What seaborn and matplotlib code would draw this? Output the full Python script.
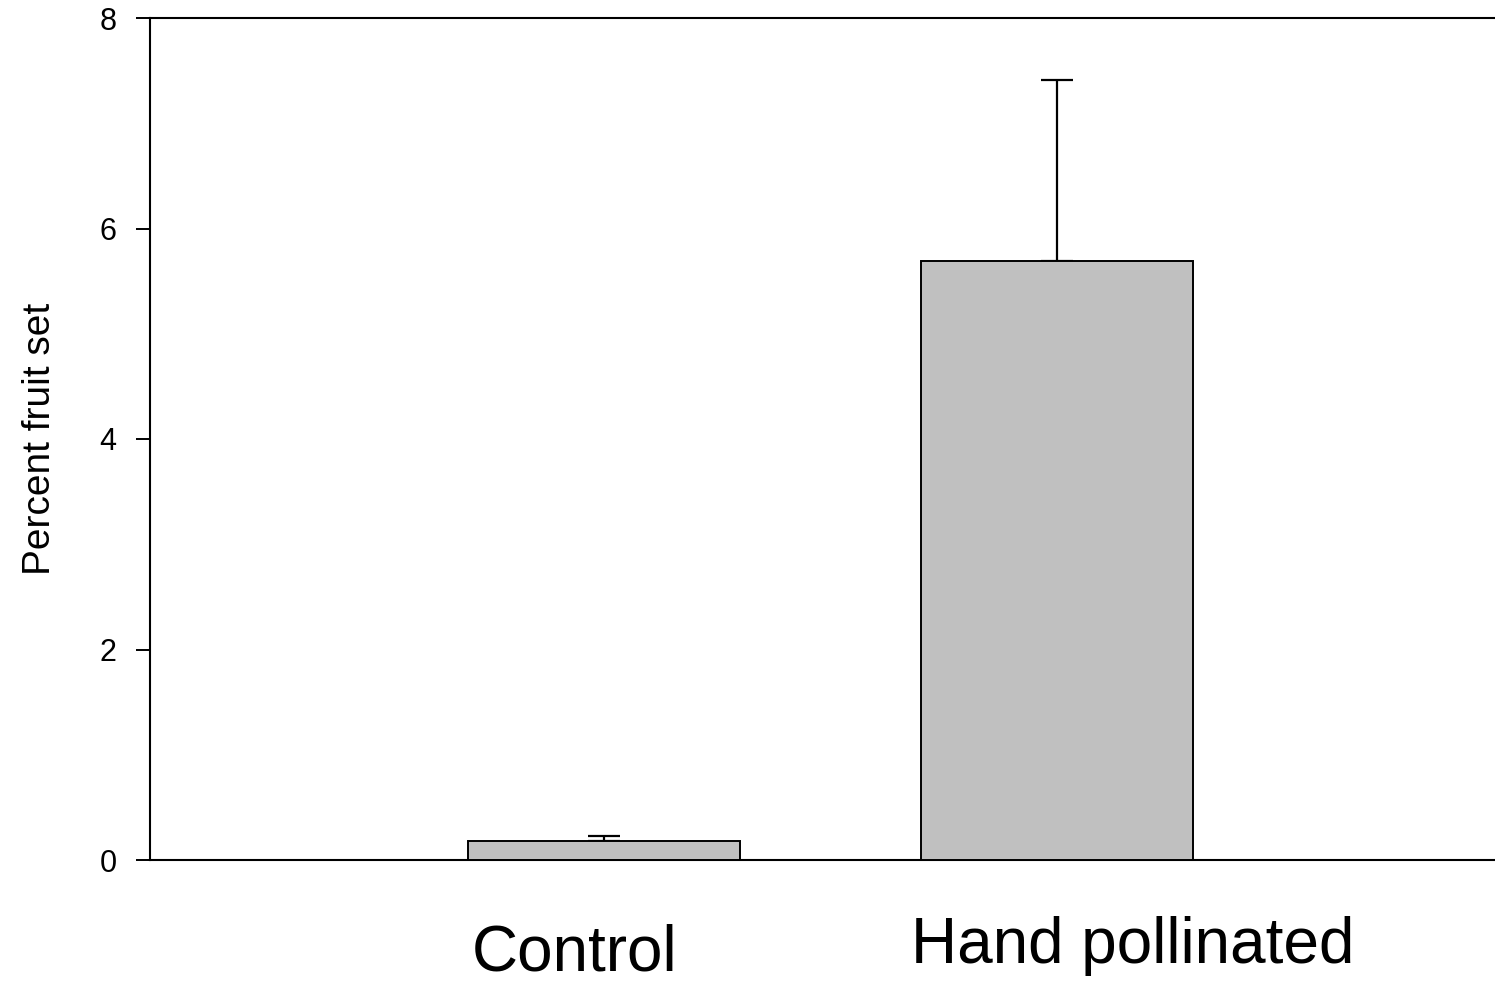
import numpy as np
import matplotlib
matplotlib.use('Agg')
import matplotlib.pyplot as plt
import matplotlib.transforms as mtransforms
import seaborn as sns
import pandas as pd

# dados
grupos = ['Control', 'Hand pollinated']
media = [0.18, 5.69]
erro = [0.05, 1.72]
y_ticks = [0, 2, 4, 6, 8]

sns.set_style('ticks')
plt.rcParams['font.family'] = ['Liberation Sans', 'DejaVu Sans']

df = pd.DataFrame({'grupo': grupos, 'media': media})

fig = plt.figure(figsize=(14.95, 9.86), dpi=100)
ax = fig.add_axes([150 / 1495, 1 - 860 / 986, (1511 - 150) / 1495, (860 - 18) / 986])

sns.barplot(data=df, x='grupo', y='media', color='#c0c0c0', saturation=1,
            width=0.6, edgecolor='black', linewidth=1.4, errorbar=None, ax=ax, zorder=3)

# barra de erro so para cima
ax.errorbar(np.arange(len(grupos)), media, yerr=[np.zeros(len(erro)), erro],
            fmt='none', ecolor='black', elinewidth=1.6, capsize=11.5, capthick=1.6, zorder=2)

ax.set_xlim(-1, 2)
ax.set_ylim(0, 8)
ax.set_yticks(y_ticks)
ax.set_xlabel('')
ax.set_ylabel('Percent fruit set', fontsize=28, labelpad=30, color='black')

for s in ['left', 'bottom', 'top']:
    ax.spines[s].set_linewidth(1.5)
    ax.spines[s].set_color('black')
ax.spines['right'].set_visible(False)

ax.tick_params(axis='y', direction='out', length=10, width=1.4, labelsize=22, pad=14, colors='black')
ax.tick_params(axis='x', length=0, labelsize=46, pad=46, colors='black')

# deslocar os rotulos do eixo x como no original
deslocs = [(-29, 0), (75, 8)]
for lab, (dx, dy) in zip(ax.get_xticklabels(), deslocs):
    lab.set_transform(lab.get_transform() + mtransforms.ScaledTranslation(dx / 100, dy / 100, fig.dpi_scale_trans))

fig.savefig('out.png', dpi=100)
